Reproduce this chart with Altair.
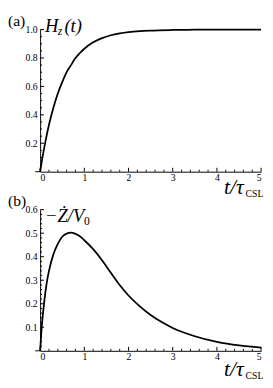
import altair as alt
import pandas as pd

FONT = "Liberation Serif"

# ---- data ----
t_a = [0, 0.05, 0.1, 0.2, 0.3, 0.4, 0.5, 0.6, 0.7, 0.8, 0.9, 1.0, 1.2, 1.4, 1.6, 1.8, 2.0, 2.25, 2.5, 3.0, 3.5, 4.0, 4.5, 5.0]
h_a = [0, 0.095, 0.18, 0.33, 0.45, 0.55, 0.63, 0.70, 0.75, 0.80, 0.835, 0.865, 0.91, 0.94, 0.96, 0.973, 0.982, 0.989, 0.993, 0.997, 0.999, 1.0, 1.0, 1.0]

t_b = [0, 0.02, 0.05, 0.1, 0.15, 0.2, 0.3, 0.4, 0.5, 0.6, 0.7, 0.8, 0.9, 1.0, 1.2, 1.4, 1.6, 1.8, 2.0, 2.25, 2.5, 2.75, 3.0, 3.5, 4.0, 4.5, 5.0]
v_b = [0, 0.06, 0.13, 0.22, 0.29, 0.34, 0.41, 0.455, 0.485, 0.498, 0.502, 0.497, 0.487, 0.47, 0.432, 0.385, 0.332, 0.28, 0.235, 0.19, 0.152, 0.122, 0.097, 0.062, 0.038, 0.023, 0.014]

x_major = [0, 1, 2, 3, 4, 5]
x_minor = [0.2, 0.4, 0.6, 0.8, 1.2, 1.4, 1.6, 1.8, 2.2, 2.4, 2.6, 2.8, 3.2, 3.4, 3.6, 3.8, 4.2, 4.4, 4.6, 4.8]
ya_major = [0.2, 0.4, 0.6, 0.8, 1.0]
ya_minor = [0.05, 0.1, 0.15, 0.25, 0.3, 0.35, 0.45, 0.5, 0.55, 0.65, 0.7, 0.75, 0.85, 0.9, 0.95]
yb_major = [0.1, 0.2, 0.3, 0.4, 0.5, 0.6]
yb_minor = [0.02, 0.04, 0.06, 0.08, 0.12, 0.14, 0.16, 0.18, 0.22, 0.24, 0.26, 0.28,
            0.32, 0.34, 0.36, 0.38, 0.42, 0.44, 0.46, 0.48, 0.52, 0.54, 0.56, 0.58]

W = 227


def text(px, py, s, size, style="normal", align="left", baseline="alphabetic"):
    return alt.Chart(pd.DataFrame({"k": [0]})).mark_text(
        text=s, font=FONT, fontSize=size, fontStyle=style, align=align,
        baseline=baseline, color="black"
    ).encode(x=alt.value(px), y=alt.value(py))


def panel(t, v, ymax, ymaj, ymin, yfmt, h, labels):
    xs = alt.Scale(domain=[0, 5], nice=False)
    ys = alt.Scale(domain=[0, ymax], nice=False, zero=True)
    xax = alt.Axis(values=x_major, format="d", ticks=False, grid=False, domain=True,
                   domainColor="black", domainWidth=1, labelFont=FONT, labelFontSize=10,
                   labelPadding=1, labelColor="black", title=None, labelOverlap=False)
    yax = alt.Axis(values=ymaj, format=yfmt, ticks=False, grid=False, domain=True,
                   domainColor="black", domainWidth=1, labelFont=FONT, labelFontSize=10,
                   labelPadding=3, labelColor="black", title=None, labelOverlap=False)

    def xq(f):
        return alt.X(f, scale=xs, axis=xax)

    def yq(f):
        return alt.Y(f, scale=ys, axis=yax)

    line = alt.Chart(pd.DataFrame({"t": t, "v": v})).mark_line(
        color="black", strokeWidth=1.8, interpolate="monotone"
    ).encode(x=xq("t:Q"), y=yq("v:Q"))

    x0 = alt.X(datum=0, scale=xs, axis=xax)
    y0 = alt.Y(datum=0, scale=ys, axis=yax)

    xmaj = alt.Chart(pd.DataFrame({"x": x_major})).mark_rule(color="black", strokeWidth=1, y2Offset=-4).encode(
        x=xq("x:Q"), y=y0, y2=alt.datum(0))
    xmin = alt.Chart(pd.DataFrame({"x": x_minor})).mark_rule(color="black", strokeWidth=1, y2Offset=-2).encode(
        x=xq("x:Q"), y=y0, y2=alt.datum(0))
    ymj = alt.Chart(pd.DataFrame({"y": ymaj})).mark_rule(color="black", strokeWidth=1, x2Offset=4).encode(
        y=yq("y:Q"), x=x0, x2=alt.datum(0))
    ymn = alt.Chart(pd.DataFrame({"y": ymin})).mark_rule(color="black", strokeWidth=1, x2Offset=2).encode(
        y=yq("y:Q"), x=x0, x2=alt.datum(0))
    ext = alt.Chart(pd.DataFrame({"k": [0]})).mark_rule(color="black", strokeWidth=1, xOffset=-5).encode(
        x=x0, x2=alt.datum(0), y=y0)

    return alt.layer(line, xmaj, xmin, ymj, ymn, ext, *labels).properties(width=W, height=h)


H1, H2 = 146, 145
labels_a = [
    text(-33, -17, "(a)", 16, baseline="top"),
    text(5, 3, "H", 19, "italic"),
    text(18, 6, "z", 12, "italic"),
    text(25, 3, "(t)", 19, "italic"),
    text(189, H1 + 23, "t/τ", 22, "italic"),
    text(211, H1 + 26, "CSL", 10),
]
labels_b = [
    text(-33, -17, "(b)", 16, baseline="top"),
    text(5, 13, "−Ż/V", 19, "italic"),
    text(45, 16, "0", 12),
    text(189, H2 + 26, "t/τ", 22, "italic"),
    text(211, H2 + 29, "CSL", 10),
]

top = panel(t_a, h_a, 1.0, ya_major, ya_minor, ".1f", H1, labels_a)
bottom = panel(t_b, v_b, 0.6, yb_major, yb_minor, ".1f", H2, labels_b)

chart = (
    alt.vconcat(top, bottom, spacing=39, bounds="flush")
    .configure_view(stroke=None)
    .configure_axis(labelFont=FONT, labelFontSize=10)
    .properties(padding=0)
)

chart.save("out.html", embed_options={"renderer": "svg", "actions": False})
